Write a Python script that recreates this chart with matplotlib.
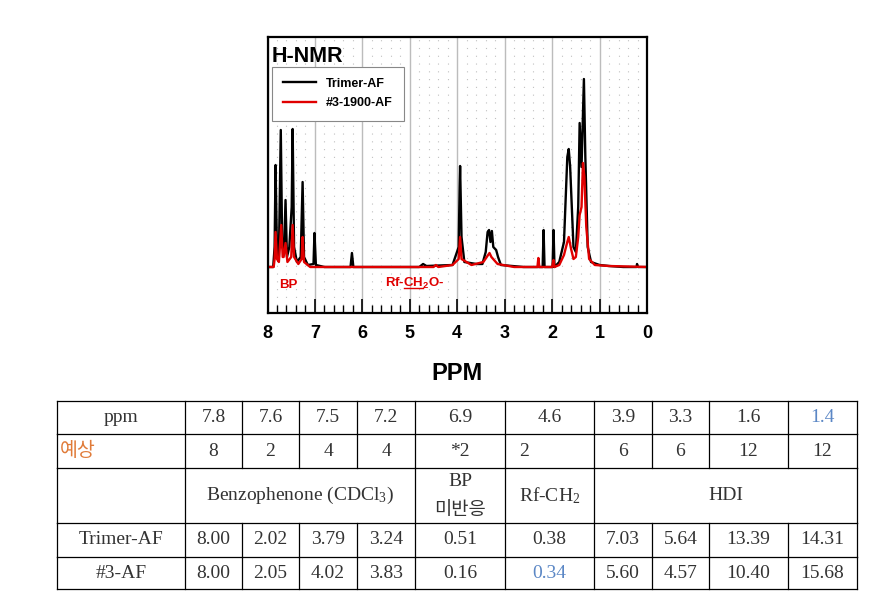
import numpy as np
import matplotlib
matplotlib.use('Agg')
import matplotlib.pyplot as plt
from matplotlib.ticker import MultipleLocator
from matplotlib.lines import Line2D

plt.rcParams['font.family'] = ['Liberation Sans', 'DejaVu Sans']
plt.rcParams['mathtext.default'] = 'regular'

# spectrum (ppm, intensity in arbitrary units)
trimer_ppm = [8.0, 7.88, 7.85, 7.83, 7.80, 7.76, 7.72, 7.69, 7.65, 7.62, 7.59, 7.54, 7.49, 7.47,
              7.44, 7.38, 7.30, 7.26, 7.23, 7.15, 7.03, 7.01, 6.98, 6.8, 6.25, 6.22, 6.19, 4.8,
              4.72, 4.65, 4.1, 3.97, 3.95, 3.94, 3.91, 3.85, 3.6, 3.47, 3.40, 3.36, 3.33, 3.30,
              3.27, 3.24, 3.18, 3.14, 3.08, 2.6, 2.20, 2.18, 2.16, 1.99, 1.97, 1.95, 1.85, 1.75,
              1.68, 1.65, 1.62, 1.55, 1.50, 1.45, 1.42, 1.38, 1.33, 1.30, 1.25, 1.18, 1.0, 0.8,
              0.5, 0.22, 0.21, 0.19, 0.0]
trimer_int = [0, 0, 20, 102, 15, 10, 137, 20, 15, 67, 10, 20, 60, 138,
              20, 5, 10, 85, 10, 2, 3, 34, 2, 0, 0, 14, 0, 0,
              3, 1, 2, 20, 80, 101, 30, 5, 3, 3, 15, 35, 37, 25,
              36, 20, 17, 10, 2, 0, 0, 37, 0, 0, 37, 0, 5, 25,
              110, 118, 100, 20, 15, 60, 144, 100, 188, 110, 20, 5, 2, 1,
              0, 0, 3, 0, 0]

af_ppm = [8.0, 7.87, 7.85, 7.83, 7.80, 7.76, 7.71, 7.68, 7.66, 7.62, 7.58, 7.50, 7.47, 7.44,
          7.35, 7.28, 7.26, 7.23, 7.1, 4.5, 4.45, 4.4, 4.1, 3.97, 3.94, 3.91, 3.7, 3.45,
          3.35, 3.32, 3.28, 3.15, 2.8, 2.31, 2.29, 2.27, 2.0, 1.97, 1.95, 1.85, 1.75, 1.68,
          1.65, 1.60, 1.55, 1.50, 1.45, 1.42, 1.38, 1.35, 1.32, 1.28, 1.22, 1.1, 0.8, 0.0]
af_int = [0, 0, 8, 35, 8, 5, 42, 10, 10, 24, 5, 10, 42, 10,
          3, 8, 30, 5, 0, 0, 2, 0, 2, 8, 30, 8, 2, 5,
          12, 14, 10, 3, 0, 0, 9, 0, 0, 7, 0, 2, 12, 25,
          30, 18, 8, 10, 30, 52, 60, 104, 90, 40, 8, 2, 1, 0]

# table
ppm_row = ['7.8', '7.6', '7.5', '7.2', '6.9', '4.6', '3.9', '3.3', '1.6', '1.4']
expected_row = ['8', '2', '4', '4', '*2', '2', '6', '6', '12', '12']
trimer_row = ['8.00', '2.02', '3.79', '3.24', '0.51', '0.38', '7.03', '5.64', '13.39', '14.31']
af_row = ['8.00', '2.05', '4.02', '3.83', '0.16', '0.34', '5.60', '4.57', '10.40', '15.68']

fig = plt.figure(figsize=(8.85, 6.0), dpi=100)

ax = fig.add_axes([267.5 / 885, 1 - 313 / 600, 379.5 / 885, 276 / 600])
ax.plot(trimer_ppm, trimer_int, color='black', lw=1.7, label='Trimer-AF')
ax.plot(af_ppm, af_int, color='#e00000', lw=1.7, label='#3-1900-AF')
ax.set_xlim(8, 0)
ax.set_ylim(-46, 230)
ax.set_yticks([])
ax.set_xticks(range(0, 9))
ax.xaxis.set_minor_locator(MultipleLocator(0.2))
ax.grid(which='major', axis='x', color='#bcbcbc', lw=1.0)
ax.grid(which='minor', axis='x', color='#c0c0c0', lw=0.8, linestyle=(0, (1, 6)))
ax.set_axisbelow(True)
ax.tick_params(which='major', direction='in', length=10, width=1.2, labelsize=13, pad=9)
ax.tick_params(which='minor', direction='in', length=6, width=1.0)
for lab in ax.get_xticklabels():
    lab.set_fontweight('bold')
for s in ax.spines.values():
    s.set_linewidth(1.6)
ax.set_xlabel('PPM', fontsize=17, fontweight='bold', labelpad=14)

ax.text(0.012, 0.93, 'H-NMR', transform=ax.transAxes, fontsize=15.5, fontweight='bold',
        va='center', ha='left')
leg = ax.legend(loc='upper left', bbox_to_anchor=(0.012, 0.893), borderaxespad=0,
                prop={'weight': 'bold', 'size': 9}, handlelength=2.6, fancybox=False,
                edgecolor='#888888', framealpha=1, borderpad=0.9, labelspacing=0.6)
leg.get_frame().set_linewidth(0.8)

ax.text(7.76, -18, 'BP', color='#e00000', fontsize=9.5, fontweight='bold', va='center')
rf = ax.text(5.52, -16, 'Rf-CH$_2$O-', color='#e00000', fontsize=9.5, fontweight='bold',
             va='center')
# underline under "CH"
fig.canvas.draw()
r = fig.canvas.get_renderer()
t1 = ax.text(5.52, -16, 'Rf-', fontsize=9.5, fontweight='bold', va='center', alpha=0)
t2 = ax.text(5.52, -16, 'Rf-CH', fontsize=9.5, fontweight='bold', va='center', alpha=0)
b1 = t1.get_window_extent(r)
x0 = b1.x1 + 0.5
x1 = t2.get_window_extent(r).x1
yb = b1.y0 + 1
fig.add_artist(Line2D([x0 / fig.bbox.width, x1 / fig.bbox.width],
                      [yb / fig.bbox.height, yb / fig.bbox.height],
                      color='#e00000', lw=1.0))

# table
tb = fig.add_axes([0, 0, 1, 1])
tb.set_xlim(0, 885)
tb.set_ylim(600, 0)
tb.axis('off')
cols = [57, 185, 242, 299, 357, 415, 505, 594, 652, 709, 788, 857]
rows = [401, 434, 468, 523, 557, 589]
for y in rows:
    tb.plot([cols[0], cols[-1]], [y, y], color='black', lw=0.9)
for i in range(len(rows) - 1):
    edges = cols if i != 2 else [cols[0], cols[1], cols[5], cols[6], cols[7], cols[-1]]
    for x in edges:
        tb.plot([x, x], [rows[i], rows[i + 1]], color='black', lw=0.9)

tfont = ['Liberation Serif', 'Noto Sans CJK KR']
tcol = '#333333'
blue = '#5b87c5'
orange = '#e07b39'


def cell(text, c0, c1, r, color=tcol, ha='center', pad=14):
    x = (cols[c0] + cols[c1]) / 2 if ha == 'center' else cols[c0] + pad
    y = (rows[r] + rows[r + 1]) / 2
    tb.text(x, y, text, ha=ha, va='center', fontsize=14, color=color, family=tfont)


cell('ppm', 0, 1, 0)
cell('예상', 0, 1, 1, color=orange, ha='left', pad=3)
cell('Trimer-AF', 0, 1, 3)
cell('#3-AF', 0, 1, 4)
for j in range(10):
    cell(ppm_row[j], j + 1, j + 2, 0, color=blue if j == 9 else tcol)
    cell(expected_row[j], j + 1, j + 2, 1, ha='left' if j == 5 else 'center')
    cell(trimer_row[j], j + 1, j + 2, 3)
    cell(af_row[j], j + 1, j + 2, 4, color=blue if j == 5 else tcol)
cell('Benzophenone (CDCl$_3$)', 1, 5, 2)
tb.text((cols[5] + cols[6]) / 2, 481, 'BP', ha='center', va='center', fontsize=14, color=tcol,
        family=tfont)
tb.text((cols[5] + cols[6]) / 2, 510, '미반응', ha='center', va='center', fontsize=13.5,
        color=tcol, family=tfont)
cell('Rf-CH$_2$', 6, 7, 2)
cell('HDI', 7, 11, 2)

fig.savefig('out.png', dpi=100)
